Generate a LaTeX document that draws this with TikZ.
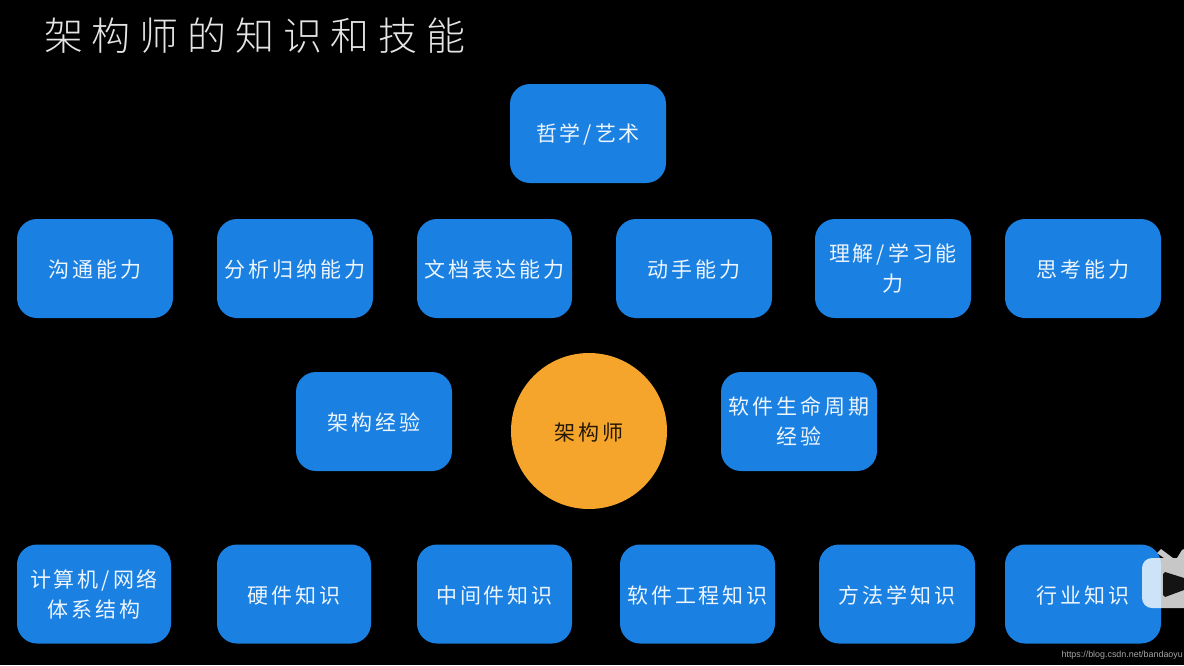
\documentclass[tikz,border=0pt]{standalone}
\usepackage{fontspec}
\setmainfont{Noto Sans CJK SC}[LetterSpace=14]
\newfontfamily\titlefont{Noto Sans CJK SC Light}[LetterSpace=22.5]
\newfontfamily\urlfont{Liberation Sans}
\usetikzlibrary{calc}
\definecolor{boxblue}{HTML}{1A80E2}
\definecolor{suborange}{HTML}{F5A52B}
\newcommand{\lowerstrut}{\rule{0pt}{20.5pt}}
\tikzset{
  skillbox/.style={fill=boxblue,rounded corners=20pt,minimum height=99pt,inner sep=0pt,align=center,text=white!92!boxblue,font=\fontsize{21}{30}\selectfont,anchor=center,execute at begin node=\lowerstrut},
  corecircle/.style={circle,fill=suborange,minimum size=156pt,inner sep=0pt,align=center,text=black!85!suborange,font=\fontsize{21}{30}\selectfont,execute at begin node=\lowerstrut},
  headtext/.style={text=white!90!black,font=\titlefont\fontsize{39}{39}\selectfont,inner sep=0pt,anchor=west},
  marktext/.style={text=white!65!black,font=\urlfont\fontsize{8.9}{10}\selectfont,inner sep=0pt,anchor=east},
  badgepart/.style={fill=white,fill opacity=.78}
}
\begin{document}
\begin{tikzpicture}[x=1pt,y=-1pt]
\fill[black] (0,0) rectangle (1184,665);
\useasboundingbox (0,0) rectangle (1184,665);
\clip (0,0) rectangle (1184,665);
\node[headtext] (title) at (44,36) {架构师的知识和技能};
\node[skillbox,minimum width=156pt] (phil) at (588,133.5) {哲学/艺术};
% row 1
\node[skillbox,minimum width=156pt] (a1) at (95,268.5) {沟通能力};
\node[skillbox,minimum width=156pt] (a2) at (295,268.5) {分析归纳能力};
\node[skillbox,minimum width=155pt] (a3) at (494.5,268.5) {文档表达能力};
\node[skillbox,minimum width=156pt] (a4) at (694,268.5) {动手能力};
\node[skillbox,minimum width=156pt] (a5) at (893,268.5) {理解/学习能\\力};
\node[skillbox,minimum width=156pt] (a6) at (1083,268.5) {思考能力};
% row 2
\node[skillbox,minimum width=156pt] (b1) at (374,421.5) {架构经验};
\node[corecircle] (core) at (589,431) {架构师};
\node[skillbox,minimum width=156pt] (b2) at (799,421.5) {软件生命周期\\经验};
% row 3
\node[skillbox,minimum width=154pt] (c1) at (94,594) {计算机/网络\\体系结构};
\node[skillbox,minimum width=154pt] (c2) at (294,594) {硬件知识};
\node[skillbox,minimum width=155pt] (c3) at (494.5,594) {中间件知识};
\node[skillbox,minimum width=155pt] (c4) at (697.5,594) {软件工程知识};
\node[skillbox,minimum width=156pt] (c5) at (897,594) {方法学知识};
\node[skillbox,minimum width=156pt] (c6) at (1083,594) {行业知识};
% player badge
\fill[badgepart] (1157,553) -- (1161,549) -- (1173,558) -- (1164,558) -- cycle;
\fill[badgepart] (1177,558) -- (1182,550) -- (1184,549) -- (1184,558) -- cycle;
\fill[badgepart] (1184,558) -- (1152,558) arc[start angle=90,end angle=180,radius=10pt] -- (1142,598) arc[start angle=180,end angle=270,radius=10pt] -- (1184,608) -- cycle;
\fill[black!92] (1163,574) -- (1165,572) -- (1184,578) -- (1184,590) -- (1165,597) -- (1163,595) -- cycle;
\node[marktext] (mark) at (1183,655) {https://blog.csdn.net/bandaoyu};
\end{tikzpicture}
\end{document}
